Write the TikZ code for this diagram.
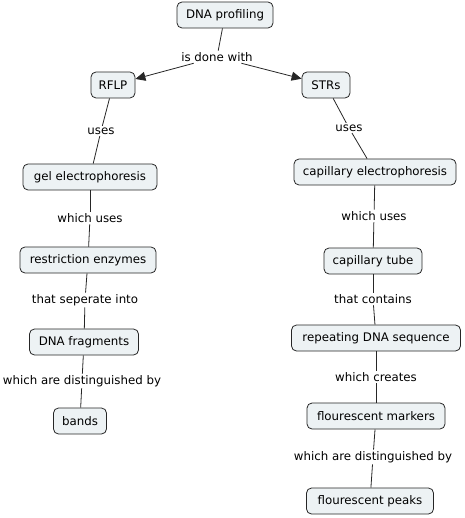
\documentclass[tikz,border=0pt]{standalone}
\usepackage{fontspec}
\setmainfont{DejaVu Sans}
\usetikzlibrary{arrows.meta}
\definecolor{boxfill}{HTML}{EDF2F4}
\begin{document}
\begin{tikzpicture}[x=1pt,y=-1pt,
  every node/.style={font=\fontsize{11.8}{13}\selectfont, text=black},
  concept/.style={draw=black!85, fill=boxfill, rounded corners=5pt, line width=0.8pt, minimum height=26pt, inner sep=0pt},
  lbl/.style={inner sep=1.5pt},
  link/.style={draw=black!85, line width=0.8pt},
  arr/.style={link, -{Triangle[length=10pt,width=9pt]}}]
\useasboundingbox (0,0) rectangle (464,518);
% concepts
\node[concept, minimum width=96pt] (dna) at (225,15) {DNA profiling};
\node[concept, minimum width=44pt] (rflp) at (113,85) {RFLP};
\node[concept, minimum width=48pt] (strs) at (326,85) {STRs};
\node[concept, minimum width=134pt] (gel) at (90,177) {gel electrophoresis};
\node[concept, minimum width=136pt] (enz) at (88,260) {restriction enzymes};
\node[concept, minimum width=109pt] (frag) at (84,342) {DNA fragments};
\node[concept, minimum width=53pt] (bands) at (80,421) {bands};
\node[concept, minimum width=162pt] (cap) at (375,172) {capillary electrophoresis};
\node[concept, minimum width=98pt] (tube) at (373,261) {capillary tube};
\node[concept, minimum width=169pt] (rep) at (376,338) {repeating DNA sequence};
\node[concept, minimum width=138pt] (mark) at (376,416) {flourescent markers};
\node[concept, minimum width=127pt] (peak) at (370,501) {flourescent peaks};
% linking phrases
\node[lbl] (l0) at (217,57) {is done with};
\node[lbl] (l1) at (101,131) {uses};
\node[lbl] (l2) at (90,218) {which uses};
\node[lbl] (l3) at (85,300) {that seperate into};
\node[lbl] (l4) at (82,381) {which are distinguished by};
\node[lbl] (r1) at (349,128) {uses};
\node[lbl] (r2) at (374,216) {which uses};
\node[lbl] (r3) at (373,299) {that contains};
\node[lbl] (r4) at (376,377) {which creates};
\node[lbl] (r5) at (373,457) {which are distinguished by};
% connectors
\draw[link] (dna) -- (l0);
\draw[arr] (l0) -- (rflp);
\draw[arr] (l0) -- (strs);
\draw[link] (rflp) -- (l1); \draw[link] (l1) -- (gel);
\draw[link] (gel) -- (l2); \draw[link] (l2) -- (enz);
\draw[link] (enz) -- (l3); \draw[link] (l3) -- (frag);
\draw[link] (frag) -- (l4); \draw[link] (l4) -- (bands);
\draw[link] (strs) -- (r1); \draw[link] (r1) -- (cap);
\draw[link] (cap) -- (r2); \draw[link] (r2) -- (tube);
\draw[link] (tube) -- (r3); \draw[link] (r3) -- (rep);
\draw[link] (rep) -- (r4); \draw[link] (r4) -- (mark);
\draw[link] (mark) -- (r5); \draw[link] (r5) -- (peak);
\end{tikzpicture}
\end{document}
